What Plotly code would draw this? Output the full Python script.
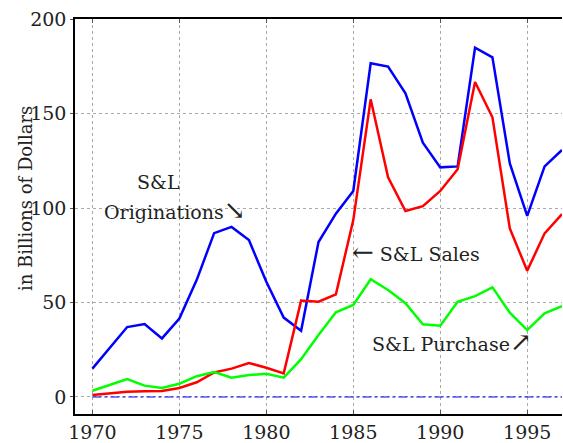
import plotly.graph_objects as go

years = list(range(1970, 1998))

# S&L Originations (blue)
originations = [15, 26, 37, 38.6, 31, 41.5, 62, 86.7, 90, 83, 61, 42, 35, 82, 97,
                109, 176.6, 174.8, 160.7, 134.6, 121.5, 122, 184.8, 179.7, 123.6,
                95.8, 122, 130.7]
# S&L Sales (red)
sales = [1, 2, 2.8, 3, 3.2, 4.8, 7.8, 13, 15, 18, 15.5, 12.5, 51, 50.4, 54.3,
         93.6, 157.5, 116.2, 98.4, 101, 109, 120.5, 166.7, 148, 89.2, 66.8,
         86.6, 96.8]
# S&L Purchase (green)
purchase = [3.3, 6.5, 9.5, 6, 4.8, 7, 11, 13.2, 10.2, 11.6, 12.3, 10.2, 20, 32.8,
            44.8, 48.7, 62.3, 56.6, 49.6, 38.5, 37.7, 50.4, 53.4, 58, 44.6, 35.4,
            44.3, 48.1]

x_ticks = [1970, 1975, 1980, 1985, 1990, 1995]
y_ticks = [0, 50, 100, 150, 200]

FONT = "DejaVu Serif"
ARROW = '<span style="font-size:26px">%s</span>'

fig = go.Figure()
fig.add_trace(go.Scatter(x=[years[0], years[-1]], y=[0, 0], mode="lines",
                         line=dict(color="#0000ff", width=1, dash="dashdot")))
fig.add_trace(go.Scatter(x=years, y=originations, mode="lines",
                         line=dict(color="#0000ff", width=2.5)))
fig.add_trace(go.Scatter(x=years, y=sales, mode="lines",
                         line=dict(color="#ff0000", width=2.5)))
fig.add_trace(go.Scatter(x=years, y=purchase, mode="lines",
                         line=dict(color="#00ff00", width=2.5)))

ann_font = dict(family=FONT, size=19, color="#222")
fig.add_annotation(x=1973.8, y=113.8, text="S&amp;L", showarrow=False, font=ann_font)
fig.add_annotation(x=1974.7, y=99, text="Originations" + ARROW % "\u2198",
                   showarrow=False, font=ann_font)
fig.add_annotation(x=1988.6, y=76.7, text=ARROW % "\u2190" + " S&amp;L Sales",
                   showarrow=False, font=ann_font)
fig.add_annotation(x=1990.7, y=29, text="S&amp;L Purchase" + ARROW % "\u2197",
                   showarrow=False, font=ann_font)
# y axis title
fig.add_annotation(xref="paper", yref="paper", x=-0.102, y=0.545, textangle=-90,
                   xanchor="center", yanchor="middle",
                   text="in Billions of Dollars", showarrow=False,
                   font=dict(family=FONT, size=18, color="#222"))

fig.update_layout(
    width=563, height=443,
    margin=dict(l=75, r=1, t=19, b=29),
    plot_bgcolor="white", paper_bgcolor="white",
    showlegend=False,
    font=dict(family=FONT, size=19, color="#222"),
    xaxis=dict(range=[1969, 1997], tickvals=x_ticks, showgrid=True, automargin=False,
               gridcolor="#aaaaaa", griddash="dot", gridwidth=1,
               showline=True, linecolor="black", linewidth=1.5, mirror="ticks",
               ticks="inside", ticklen=4, tickcolor="#555", zeroline=False),
    yaxis=dict(range=[-9, 200.01], tickvals=y_ticks, showgrid=True, automargin=False,
               gridcolor="#aaaaaa", griddash="dot", gridwidth=1,
               showline=True, linecolor="black", linewidth=1.5,
               ticks="outside", ticklen=3, tickcolor="#555", zeroline=False),
)

# drop the default 8px body margin so the figure fills the window
fig.write_html("out.html", config={"displayModeBar": False},
               post_script="document.body.style.margin='0';"
               "document.body.style.overflow='hidden';")
